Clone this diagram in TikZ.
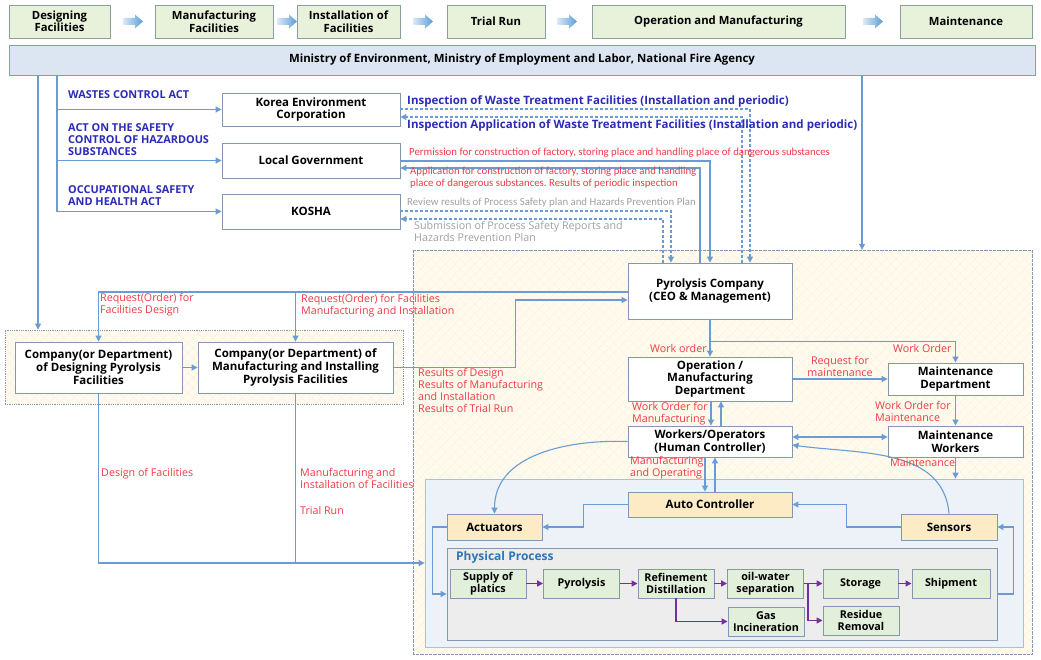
\documentclass[tikz,border=0pt]{standalone}
\usepackage{fontspec}
\setmainfont{Open Sans}
\newfontfamily\narrowfont{Carlito}
\usepackage{tikz}
\usetikzlibrary{arrows.meta,patterns.meta}

\definecolor{stagefill}{HTML}{E8F1DA}
\definecolor{stageline}{HTML}{8A9E9E}
\definecolor{minfill}{HTML}{DCE6F2}
\definecolor{minline}{HTML}{7F9DC0}
\definecolor{boxline}{HTML}{8497B0}
\definecolor{linkblue}{HTML}{6A9BD3}
\definecolor{labred}{HTML}{EE3B45}
\definecolor{lawblue}{HTML}{2B2BB5}
\definecolor{labgrey}{HTML}{A0A0A0}
\definecolor{ctrlfill}{HTML}{FCEBC5}
\definecolor{procfill}{HTML}{E2EFDA}
\definecolor{physfill}{HTML}{EDEDED}
\definecolor{procpurple}{HTML}{7030A0}
\definecolor{physblue}{HTML}{2E75B6}
\definecolor{regionfill}{HTML}{FFFAEE}
\definecolor{hatch}{HTML}{F6E6C6}
\definecolor{ctrlbg}{HTML}{EDF2F9}
\definecolor{ctrlline}{HTML}{9DC3E6}
\definecolor{arrowlight}{HTML}{DCEAF7}
\definecolor{arrowdark}{HTML}{5B9BD5}

\tikzset{
  stage/.style={draw=stageline, fill=stagefill, line width=0.8pt, inner sep=0pt,
    font=\bfseries\fontsize{11.3}{12.5}\selectfont, align=center},
  whitebox/.style={draw=boxline, fill=white, line width=0.9pt, inner sep=0pt,
    font=\bfseries\fontsize{11.5}{12.8}\selectfont, align=center},
  ctrlbox/.style={whitebox, fill=ctrlfill},
  procbox/.style={draw=boxline, fill=procfill, line width=0.9pt, inner sep=0pt,
    minimum width=76pt, minimum height=29pt,
    font=\bfseries\fontsize{10.8}{11.8}\selectfont, align=center},
  region/.style={draw=boxline, densely dotted, line width=0.8pt,
    preaction={fill=regionfill},
    preaction={pattern={Lines[angle=45,distance=7pt,line width=0.3pt]}, pattern color=hatch},
    pattern={Lines[angle=-45,distance=7pt,line width=0.3pt]}, pattern color=hatch},
  ctrlregion/.style={draw=ctrlline, fill=ctrlbg, line width=0.8pt},
  physregion/.style={draw=boxline, fill=physfill, line width=0.9pt},
  link/.style={draw=linkblue, line width=1.1pt, -{Triangle[length=6pt,width=6pt]}},
  link2/.style={link, {Triangle[length=6pt,width=6pt]}-{Triangle[length=6pt,width=6pt]}},
  dlink/.style={link, dash pattern=on 3pt off 2pt},
  plain/.style={draw=linkblue, line width=1.1pt},
  plink/.style={draw=procpurple, line width=1.5pt, -{Triangle[length=6pt,width=6pt]}},
  redtxt/.style={text=labred, inner sep=0pt, align=left,
    font=\fontsize{10.7}{12}\selectfont},
  narrowred/.style={redtxt, font=\narrowfont\fontsize{10.8}{12}\selectfont},
  lawtxt/.style={text=lawblue, inner sep=0pt, align=left,
    font=\bfseries\fontsize{10.9}{12}\selectfont},
  insptxt/.style={text=lawblue, inner sep=0pt,
    font=\bfseries\fontsize{11.5}{12}\selectfont},
}

\begin{document}
\begin{tikzpicture}[x=1pt,y=-1pt]
    \useasboundingbox (0,0) rectangle (1041,660);
    % regions
    \node[region, minimum width=619pt, minimum height=404pt] (plant) at (722.5,452) {};
    \node[region, minimum width=398pt, minimum height=74pt] (grp) at (204,367) {};
    \node[ctrlregion, minimum width=598pt, minimum height=168pt] (ctrl) at (724,563) {};
    \node[physregion, minimum width=550pt, minimum height=92pt] (phys) at (722,594) {};
    \node[text=physblue, font=\bfseries\fontsize{12}{12}\selectfont, anchor=west, inner sep=0pt] (physlbl) at (456,557) {Physical Process};

    % life cycle stages
    \node[stage, minimum width=101pt, minimum height=33pt] (sdes) at (59.5,21.5) {Designing\\Facilities};
    \node[stage, minimum width=118pt, minimum height=33pt] (sman) at (214,21.5) {Manufacturing\\Facilities};
    \node[stage, minimum width=103pt, minimum height=33pt] (sins) at (348.5,21.5) {Installation of\\Facilities};
    \node[stage, minimum width=98pt, minimum height=33pt] (strial) at (496,21.5) {Trial Run};
    \node[stage, minimum width=253pt, minimum height=33pt] (sop) at (718.5,21.5) {Operation and Manufacturing};
    \node[stage, minimum width=132pt, minimum height=33pt] (smaint) at (966,21.5) {Maintenance};
    \foreach \x in {123,277,413,557,863}
        \shade[left color=arrowlight, right color=arrowdark] (\x,18) -- (\x+12,18) -- (\x+12,14.5) -- (\x+20,21.5) -- (\x+12,28.5) -- (\x+12,25) -- (\x,25) -- cycle;

    \node[draw=minline, fill=minfill, line width=0.9pt, minimum width=1026pt, minimum height=30pt,
      font=\bfseries\fontsize{11.4}{12}\selectfont] (min) at (522,60)
      {Ministry of Environment,\ Ministry of Employment\ and Labor, National Fire Agency};

    % authorities
    \node[whitebox, minimum width=178pt, minimum height=33pt] (korea) at (311,109.5) {Korea Environment\\Corporation};
    \node[whitebox, minimum width=178pt, minimum height=35pt] (local) at (311,160.5) {Local Government};
    \node[whitebox, minimum width=178pt, minimum height=35pt] (kosha) at (311,211.5) {KOSHA};
    \node[lawtxt, anchor=west] (lwaste) at (68,95) {WASTES CONTROL ACT};
    \node[lawtxt, anchor=north west] (lhaz) at (68,123.5) {ACT ON THE SAFETY\\CONTROL OF HAZARDOUS\\SUBSTANCES};
    \node[lawtxt, anchor=north west] (losh) at (68,185.5) {OCCUPATIONAL SAFETY\\AND HEALTH ACT};

    % pyrolysis company
    \node[whitebox, minimum width=164pt, minimum height=56pt] (company) at (710,291) {Pyrolysis Company\\(CEO \& Management)};
    \node[whitebox, minimum width=167pt, minimum height=51pt] (desco) at (98.5,367.5) {Company(or Department)\\of Designing Pyrolysis\\Facilities};
    \node[whitebox, minimum width=195pt, minimum height=51pt] (manco) at (295.5,367.5) {Company(or Department) of\\Manufacturing and Installing\\Pyrolysis Facilities};
    \node[whitebox, minimum width=164pt, minimum height=44pt] (opdept) at (710,379) {Operation /\\Manufacturing\\Department};
    \node[whitebox, minimum width=135pt, minimum height=32pt] (mdept) at (955.5,379) {Maintenance\\Department};
    \node[whitebox, minimum width=164pt, minimum height=31pt] (workers) at (710,441.5) {Workers/Operators\\(Human Controller)};
    \node[whitebox, minimum width=135pt, minimum height=31pt] (mworkers) at (955.5,441.5) {Maintenance\\Workers};
    \node[ctrlbox, minimum width=164pt, minimum height=25pt] (auto) at (710,504.5) {Auto Controller};
    \node[ctrlbox, minimum width=95pt, minimum height=26pt] (act) at (494.5,527) {Actuators};
    \node[ctrlbox, minimum width=96pt, minimum height=26pt] (sensors) at (949,527) {Sensors};

    % physical process
    \node[procbox] (supply) at (488,583.5) {Supply of\\platics};
    \node[procbox] (pyro) at (581.5,583.5) {Pyrolysis};
    \node[procbox] (refine) at (676,583.5) {Refinement\\Distillation};
    \node[procbox] (oilw) at (765.5,583.5) {oil-water\\separation};
    \node[procbox, minimum width=75pt] (storage) at (860.5,583.5) {Storage};
    \node[procbox, minimum width=78pt] (ship) at (951,583.5) {Shipment};
    \node[procbox] (gas) at (766,621.5) {Gas\\Incineration};
    \node[procbox] (residue) at (861,620.5) {Residue\\Removal};

    % ministry lines
    \draw[link] (min.south -| 38,0) -- (grp.north -| 38,0);
    \draw[link] (min.south -| 57,0) |- (kosha.west);
    \draw[link] (korea.west -| 57,0) -- (korea.west);
    \draw[link] (local.west -| 57,0) -- (local.west);
    \draw[link] (min.south -| 862,0) -- (plant.north -| 862,0);

    % authorities and company
    \draw[dlink] (korea.east |- 0,109) -| (company.north -| 750,0);
    \draw[dlink] (company.north -| 742,0) |- (korea.east |- 0,117);
    \draw[link] (local.east |- 0,161) -| (company.north -| 710,0);
    \draw[link] (company.north -| 700,0) |- (local.east |- 0,168);
    \draw[dlink] (kosha.east |- 0,211) -| (company.north -| 671,0);
    \draw[dlink] (company.north -| 663,0) |- (kosha.east |- 0,219);
    \node[insptxt, anchor=west] (tinsp) at (407,101) {Inspection of\ Waste Treatment Facilities (Installation and\ periodic)};
    \node[insptxt, anchor=west] (tappl) at (407,125) {Inspection Application\ of\ Waste Treatment Facilities (Installation and periodic)};
    \node[narrowred, anchor=west] (tperm) at (409,153) {Permission\ for construction\ of factory,\ storing\ place and handling\ place of dangerous\ substances};
    \node[narrowred, anchor=north west] (tapl) at (410,166.5) {Application\ for construction\ of factory,\ storing place and handling\\place of dangerous\ substances.\ Results of periodic inspection};
    \node[narrowred, text=labgrey, anchor=west] (trev) at (407,203) {Review\ results of Process\ Safety\ plan and Hazards\ Prevention\ Plan};
    \node[redtxt, text=labgrey, anchor=north west] (tsub) at (414,221.5) {Submission of Process Safety Reports and\\Hazards Prevention Plan};

    % design, manufacturing and installation
    \draw[link] (company.west |- 0,292) -| (desco.north);
    \draw[link] (manco.north |- 0,292) -- (manco.north);
    \draw[link] (desco) -- (manco);
    \draw[link] (manco.east) -- ++(122,0) |- (company.west |- 0,300);
    \draw[link] (desco.south) |- (ctrl.west);
    \draw[plain] (manco.south) -- (manco.south |- ctrl.west);
    \node[redtxt, anchor=north west] (treqd) at (100,293.5) {Request(Order) for\\Facilities Design};
    \node[redtxt, anchor=north west] (treqm) at (301,294.5) {Request(Order) for Facilities\\Manufacturing and Installation};
    \node[redtxt, anchor=north west] (tres) at (418,368.5) {Results of Design\\Results of Manufacturing\\and Installation\\Results of Trial Run};
    \node[redtxt, anchor=west] (tdes) at (101,474) {Design of Facilities};
    \node[redtxt, anchor=north west] (tman) at (300,468.5) {Manufacturing and\\Installation of Facilities};
    \node[redtxt, anchor=west] (ttrial) at (300,510) {Trial Run};

    % inside the company
    \draw[link] (company.south) -- (opdept.north);
    \draw[link] (company.south) ++(0,22) -| (mdept.north);
    \draw[link] (opdept.east) -- (mdept.west);
    \draw[link] (opdept.south -| 711,0) -- (workers.north -| 711,0);
    \draw[link] (workers.north -| 721,0) -- (opdept.south -| 721,0);
    \draw[link] (mdept) -- (mworkers);
    \draw[link2] (workers.east |- 0,437) -- (mworkers.west |- 0,437);
    \draw[link] (sensors.north) to[out=95,in=-8] (workers.east |- 0,445);
    \draw[link] (workers.west) to[out=178,in=90] (act.north);
    \draw[link] (mworkers.south) -- (mworkers.south |- ctrl.north);
    \draw[link] (workers.south -| 705,0) -- (auto.north -| 705,0);
    \draw[link] (auto.north -| 715,0) -- (workers.south -| 715,0);
    \draw[link] (auto.west) -- ++(-44,0) |- (act.east);
    \draw[link] (sensors.west) -- ++(-54,0) |- (auto.east);
    \draw[link] (act.west) -- ++(-14,0) |- (phys.west);
    \draw[link] (phys.east) -- ++(16,0) |- (sensors.east);
    \node[redtxt, anchor=west] (two1) at (650,348) {Work order};
    \node[redtxt, anchor=west] (two2) at (893,348) {Work Order};
    \node[redtxt, align=center] (treqmt) at (840,366) {Request for\\maintenance};
    \node[redtxt, anchor=north west] (twom) at (632,402.5) {Work Order for\\Manufacturing};
    \node[redtxt, anchor=north west] (twomt) at (875,401.5) {Work Order for\\Maintenance};
    \node[redtxt, anchor=west] (tmnt) at (890,463) {Maintenance};
    \node[redtxt, anchor=north west] (tmao) at (630,456.5) {Manufacturing\\and Operating};

    % process flow
    \draw[plink] (supply) -- (pyro);
    \draw[plink] (pyro) -- (refine);
    \draw[plink] (refine) -- (oilw);
    \draw[plink] (oilw) -- (storage);
    \draw[plink] (storage) -- (ship);
    \draw[plink] (refine.south) |- (gas.west);
    \draw[plink] (oilw.east) ++(4,0) |- (residue.west);
\end{tikzpicture}
\end{document}
